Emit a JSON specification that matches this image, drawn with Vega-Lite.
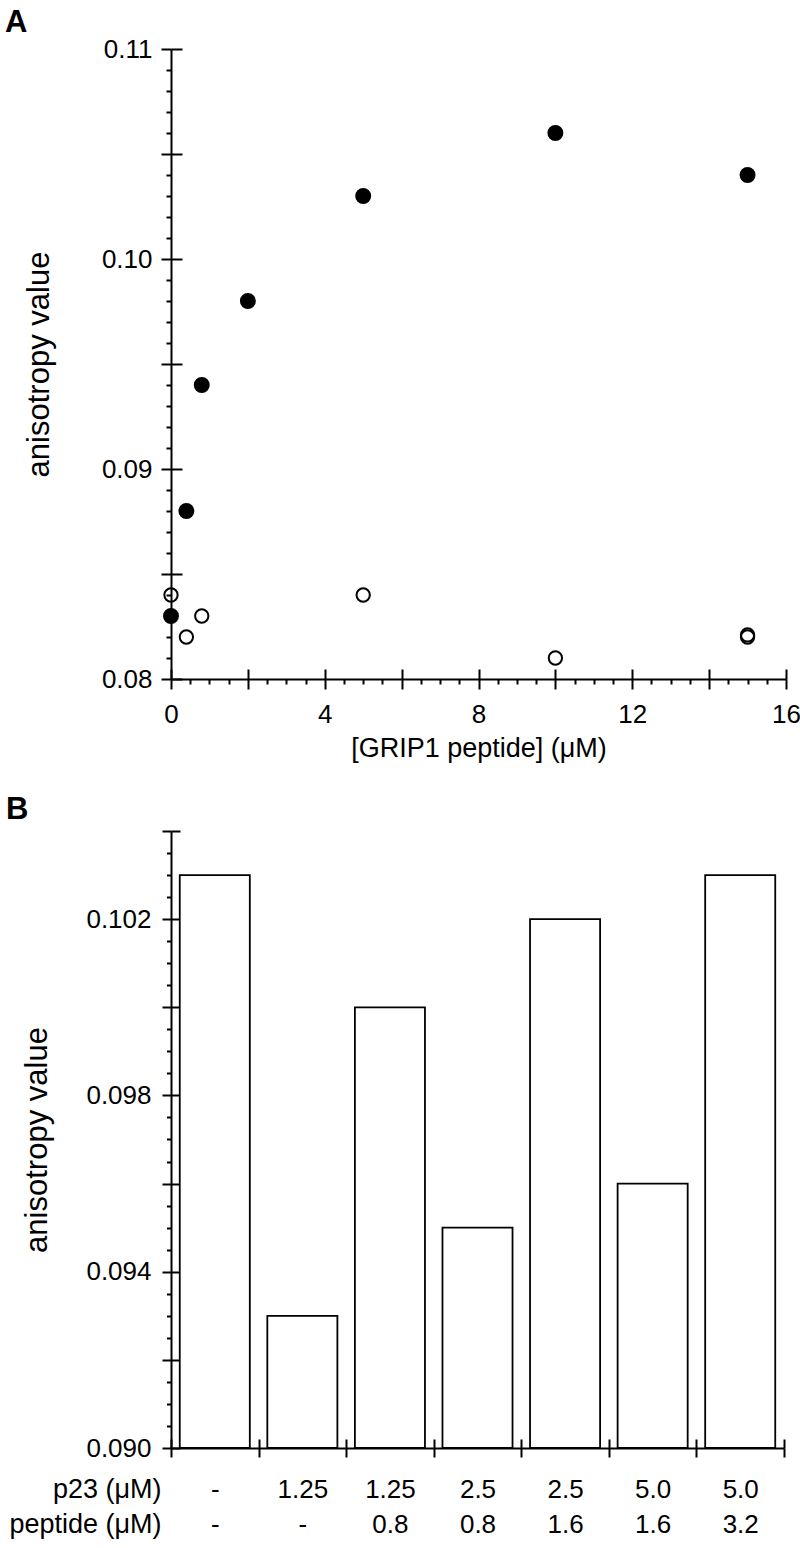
{
  "$schema": "https://vega.github.io/schema/vega-lite/v6.json",
  "background": "white",
  "padding": {"left": 5, "top": 7, "right": 5, "bottom": 5},
  "spacing": 33,
  "config": {
    "view": {"stroke": null},
    "font": "Liberation Sans",
    "axis": {
      "grid": false,
      "domainColor": "black",
      "tickColor": "black",
      "labelColor": "black",
      "titleColor": "black",
      "domainWidth": 2,
      "tickWidth": 2,
      "labelFont": "Liberation Sans",
      "titleFont": "Liberation Sans",
      "titleFontWeight": "normal",
      "labelOverlap": false,
      "labelFlush": false,
      "labelBound": false
    }
  },
  "vconcat": [
    {
      "width": 615,
      "height": 630,
      "title": {"text": "A", "anchor": "start", "frame": "group", "dx": -166, "fontSize": 31, "fontWeight": "bold", "font": "Liberation Sans", "color": "black", "baseline": "alphabetic", "offset": -27},
      "data": {"values": [
        {"conc": 0, "value": 0.083, "type": "filled"},
        {"conc": 0.4, "value": 0.088, "type": "filled"},
        {"conc": 0.8, "value": 0.094, "type": "filled"},
        {"conc": 2, "value": 0.098, "type": "filled"},
        {"conc": 5, "value": 0.103, "type": "filled"},
        {"conc": 10, "value": 0.106, "type": "filled"},
        {"conc": 15, "value": 0.104, "type": "filled"},
        {"conc": 0, "value": 0.084, "type": "open"},
        {"conc": 0.4, "value": 0.082, "type": "open"},
        {"conc": 0.8, "value": 0.083, "type": "open"},
        {"conc": 5, "value": 0.084, "type": "open"},
        {"conc": 10, "value": 0.081, "type": "open"},
        {"conc": 15, "value": 0.0820, "type": "open"},
        {"conc": 15, "value": 0.0821, "type": "open"}
      ]},
      "layer": [
        {
          "transform": [{"filter": "datum.type == 'filled'"}],
          "mark": {"type": "point", "shape": "circle", "filled": true, "color": "black", "size": 254, "opacity": 1},
          "encoding": {
            "x": {"field": "conc", "type": "quantitative", "scale": {"domain": [0, 16], "nice": false},
              "axis": {"orient": "bottom", "values": [0, 2, 4, 6, 8, 10, 12, 14, 16], "tickSize": 10, "labelExpr": "datum.value % 4 == 0 ? datum.label : ''", "labelFontSize": 26, "labelPadding": 12, "title": "[GRIP1 peptide] (μM)", "titleFontSize": 27, "titlePadding": 8}},
            "y": {"field": "value", "type": "quantitative", "scale": {"domain": [0.08, 0.11], "nice": false, "zero": false},
              "axis": {"orient": "left", "values": [0.08, 0.085, 0.09, 0.095, 0.1, 0.105, 0.11], "tickSize": 10, "labelExpr": "abs(datum.value*100 - round(datum.value*100)) < 0.001 ? format(datum.value, '.2f') : ''", "labelFontSize": 26, "labelPadding": 9, "title": "anisotropy value", "titleFontSize": 31, "titlePadding": 46}}
          }
        },
        {
          "transform": [{"filter": "datum.type == 'open'"}],
          "mark": {"type": "point", "shape": "circle", "filled": false, "stroke": "black", "strokeWidth": 2, "size": 177, "opacity": 1},
          "encoding": {
            "x": {"field": "conc", "type": "quantitative",
              "axis": {"orient": "bottom", "values": [0, 2, 4, 6, 8, 10, 12, 14, 16], "tickSize": -10, "labels": false, "domain": false, "title": null}},
            "y": {"field": "value", "type": "quantitative",
              "axis": {"orient": "left", "values": [0.08, 0.085, 0.09, 0.095, 0.1, 0.105, 0.11], "tickSize": -11, "labels": false, "domain": false, "title": null}}
          }
        },
        {
          "mark": {"type": "point", "opacity": 0},
          "encoding": {
            "x": {"field": "conc", "type": "quantitative",
              "axis": {"orient": "bottom", "values": [0.5, 1, 1.5, 2.5, 3, 3.5, 4.5, 5, 5.5, 6.5, 7, 7.5, 8.5, 9, 9.5, 10.5, 11, 11.5, 12.5, 13, 13.5, 14.5, 15, 15.5], "tickSize": 5, "labels": false, "domain": false, "title": null}},
            "y": {"field": "value", "type": "quantitative",
              "axis": {"orient": "left", "values": [0.081, 0.082, 0.083, 0.084, 0.086, 0.087, 0.088, 0.089, 0.091, 0.092, 0.093, 0.094, 0.096, 0.097, 0.098, 0.099, 0.101, 0.102, 0.103, 0.104, 0.106, 0.107, 0.108, 0.109], "tickSize": 5, "labels": false, "domain": false, "title": null}}
          }
        }
      ],
      "resolve": {"axis": {"x": "independent", "y": "independent"}}
    },
    {
      "width": 613,
      "height": 617,
      "title": {"text": "B", "anchor": "start", "frame": "group", "dx": -165, "fontSize": 31, "fontWeight": "bold", "font": "Liberation Sans", "color": "black", "baseline": "alphabetic", "offset": -32},
      "data": {"values": [
        {"cond": "-|-", "value": 0.103},
        {"cond": "1.25|-", "value": 0.093},
        {"cond": "1.25|0.8", "value": 0.100},
        {"cond": "2.5|0.8", "value": 0.095},
        {"cond": "2.5|1.6", "value": 0.102},
        {"cond": "5.0|1.6", "value": 0.096},
        {"cond": "5.0|3.2", "value": 0.103}
      ]},
      "layer": [
        {
          "mark": {"type": "bar", "fill": "white", "stroke": "black", "strokeWidth": 1.8, "width": {"band": 0.8}},
          "encoding": {
            "x": {"field": "cond", "type": "nominal", "sort": null, "scale": {"paddingInner": 0, "paddingOuter": 0},
              "axis": {"orient": "bottom", "tickBand": "extent", "tickSize": 9, "labelAngle": 0, "labelExpr": "split(datum.label, '|')", "labelFontSize": 26, "labelLineHeight": 35, "labelBaseline": "alphabetic", "labelPadding": 40,
                "title": ["p23 (μM)", "peptide (μM)"], "titleFontSize": 27, "titleLineHeight": 35, "titleAngle": 0, "titleAlign": "right", "titleAnchor": "start", "titleBaseline": "alphabetic", "titleX": -10, "titleY": 49}},
            "y": {"field": "value", "type": "quantitative", "scale": {"domain": [0.09, 0.104], "nice": false, "zero": false},
              "axis": {"orient": "left", "values": [0.09, 0.092, 0.094, 0.096, 0.098, 0.1, 0.102, 0.104], "tickSize": 9, "labelExpr": "indexof(['0.090','0.094','0.098','0.102'], format(datum.value, '.3f')) >= 0 ? format(datum.value, '.3f') : ''", "labelFontSize": 26, "labelPadding": 11, "title": "anisotropy value", "titleFontSize": 31, "titlePadding": 32}},
            "y2": {"datum": 0.09}
          }
        },
        {
          "mark": {"type": "bar", "opacity": 0, "width": {"band": 0.8}},
          "encoding": {
            "x": {"field": "cond", "type": "nominal", "sort": null,
              "axis": {"orient": "bottom", "tickBand": "extent", "tickSize": -9, "labels": false, "domain": false, "title": null}},
            "y": {"field": "value", "type": "quantitative",
              "axis": {"orient": "left", "values": [0.09, 0.092, 0.094, 0.096, 0.098, 0.1, 0.102, 0.104], "tickSize": -9, "labels": false, "domain": false, "title": null}},
            "y2": {"datum": 0.09}
          }
        },
        {
          "mark": {"type": "bar", "opacity": 0, "width": {"band": 0.8}},
          "encoding": {
            "x": {"field": "cond", "type": "nominal", "sort": null,
              "axis": null},
            "y": {"field": "value", "type": "quantitative",
              "axis": {"orient": "left", "values": [0.0905, 0.091, 0.0915, 0.0925, 0.093, 0.0935, 0.0945, 0.095, 0.0955, 0.0965, 0.097, 0.0975, 0.0985, 0.099, 0.0995, 0.1005, 0.101, 0.1015, 0.1025, 0.103, 0.1035], "tickSize": 4.5, "labels": false, "domain": false, "title": null}},
            "y2": {"datum": 0.09}
          }
        }
      ],
      "resolve": {"axis": {"x": "independent", "y": "independent"}}
    }
  ]
}
